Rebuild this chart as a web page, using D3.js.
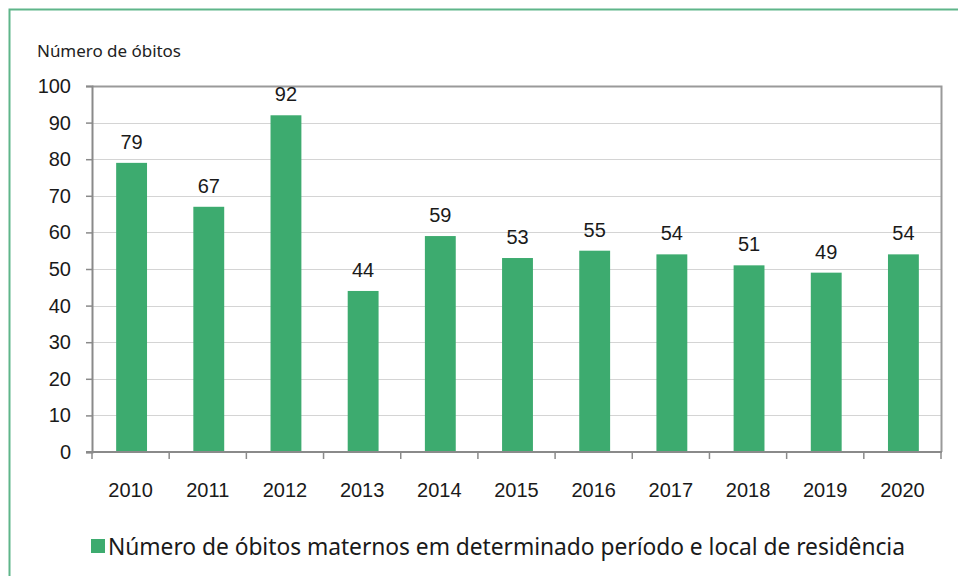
<!DOCTYPE html>
<html>
<head>
<meta charset="utf-8">
<script src="https://cdn.jsdelivr.net/npm/d3@7"></script>
<style>
  body { margin: 0; background: #fff; }
  text { font-family: Arial, "Liberation Sans", sans-serif; }
</style>
</head>
<body>
<div id="chart"></div>
<script>
var years = ["2010", "2011", "2012", "2013", "2014", "2015", "2016", "2017", "2018", "2019", "2020"];
var deaths = [79, 67, 92, 44, 59, 53, 55, 54, 51, 49, 54];
var yTicks = [0, 10, 20, 30, 40, 50, 60, 70, 80, 90, 100];
var seriesName = "Número de óbitos maternos em determinado período e local de residência";
var yTitle = "Número de óbitos";

var svgWidth = 958;
var svgHeight = 576;
var margin = { top: 86, left: 92, right: 17, bottom: 124 };
var width = svgWidth - margin.left - margin.right;
var height = svgHeight - margin.top - margin.bottom;
var barColor = "#3dab6f";

var svg = d3.select("#chart").append("svg")
    .attr("width", svgWidth)
    .attr("height", svgHeight);

// outer frame (green top and left edges)
svg.append("path")
    .attr("d", "M9.5,576 V9.5 H958")
    .attr("fill", "none")
    .attr("stroke", "#5fb58a")
    .attr("stroke-width", 2);

var chartGroup = svg.append("g")
    .attr("transform", `translate(${margin.left}, ${margin.top})`);

var x = d3.scaleBand().domain(years).range([0, width]).paddingInner(0.6).paddingOuter(0.3);
var y = d3.scaleLinear().domain([0, 100]).range([height, 0]);

// gridlines
chartGroup.selectAll("line.grid")
    .data(yTicks.filter(d => d > 0))
    .enter().append("line")
    .attr("class", "grid")
    .attr("x1", 0).attr("x2", width)
    .attr("y1", d => Math.round(y(d)) + 0.5)
    .attr("y2", d => Math.round(y(d)) + 0.5)
    .attr("stroke", "#d4d4d4");

// plot area border right/top
chartGroup.append("path")
    .attr("d", `M0,0.5 H${width + 0.5} V${height}`)
    .attr("fill", "none")
    .attr("stroke", "#9a9a9a")
    .attr("stroke-width", 2);

// bars
chartGroup.selectAll("rect.bar")
    .data(deaths)
    .enter().append("rect")
    .attr("class", "bar")
    .attr("x", (d, i) => x(years[i]) + 1)
    .attr("width", x.bandwidth())
    .attr("y", d => y(d))
    .attr("height", d => height - y(d))
    .attr("fill", barColor);

// value labels
chartGroup.selectAll("text.val")
    .data(deaths)
    .enter().append("text")
    .attr("class", "val")
    .attr("x", (d, i) => x(years[i]) + x.bandwidth() / 2 + 1)
    .attr("y", d => y(d) - 14)
    .attr("text-anchor", "middle")
    .style("font-size", "20px")
    .style("fill", "#1a1a1a")
    .text(d => d);

// y axis
var yAxis = chartGroup.append("g")
    .call(d3.axisLeft(y).tickValues(yTicks).tickSize(6).tickPadding(15));
yAxis.select(".domain").attr("stroke", "#8a8a8a").attr("stroke-width", 2);
yAxis.selectAll(".tick line").attr("stroke", "#8a8a8a").attr("stroke-width", 1.5);
yAxis.selectAll(".tick text").style("font-size", "20px").style("fill", "#1a1a1a")
    .attr("font-family", "Arial, 'Liberation Sans', sans-serif");

// x axis with ticks between categories
var xAxisG = chartGroup.append("g").attr("transform", `translate(0, ${height})`);
xAxisG.append("line")
    .attr("x1", -6).attr("x2", width + 1)
    .attr("y1", 0).attr("y2", 0)
    .attr("stroke", "#8a8a8a").attr("stroke-width", 2);
var step = x.step();
var bounds = d3.range(years.length + 1).map(i => x(years[0]) - x.paddingOuter() * step + i * step);
xAxisG.selectAll("line.xt")
    .data(bounds)
    .enter().append("line")
    .attr("class", "xt")
    .attr("x1", d => d).attr("x2", d => d)
    .attr("y1", 0).attr("y2", 7)
    .attr("stroke", "#8a8a8a").attr("stroke-width", 1.5);
xAxisG.selectAll("text.xl")
    .data(years)
    .enter().append("text")
    .attr("class", "xl")
    .attr("x", d => x(d) + x.bandwidth() / 2)
    .attr("y", 45)
    .attr("text-anchor", "middle")
    .style("font-size", "20px")
    .style("fill", "#1a1a1a")
    .text(d => d);

// y title
svg.append("text")
    .attr("x", 37).attr("y", 57)
    .attr("textLength", 144)
    .style("font-size", "17px")
    .style("font-family", "'Noto Sans', 'Open Sans', sans-serif")
    .style("fill", "#222")
    .text(yTitle);

// legend
svg.append("rect")
    .attr("x", 91).attr("y", 539)
    .attr("width", 14).attr("height", 14)
    .attr("fill", barColor);
svg.append("text")
    .attr("x", 108).attr("y", 555)
    .attr("textLength", 797)
    .style("font-size", "22.8px")
    .style("font-family", "'Noto Sans', 'Open Sans', sans-serif")
    .style("fill", "#1a1a1a")
    .text(seriesName);
</script>
</body>
</html>
